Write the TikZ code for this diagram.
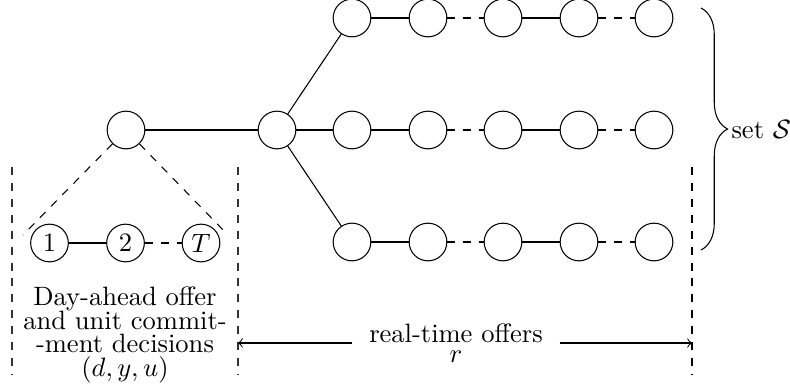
\documentclass[tikz,border=0pt]{standalone}
\usetikzlibrary{decorations.pathreplacing}
\begin{document}
\begin{tikzpicture}[x=0.3768pt,y=-0.3768pt,
  stage/.style={circle,draw,minimum size=14.2pt,inner sep=0pt},
  gapline/.style={draw,dashed}]
\useasboundingbox (0,0) rectangle (790,389);

% day-ahead root and branching node
\node[stage] (root) at (126,130) {};
\node[stage] (br) at (277,130) {};
\draw (root) -- (br);

% real-time scenario chains
\foreach \r/\y in {a/18,b/130,c/242}{
  \foreach \k/\x in {1/352,2/428,3/503,4/579,5/654}{
    \node[stage] (\r\k) at (\x,\y) {};
  }
  \draw (br) -- (\r1);
  \draw (\r1) -- (\r2);
  \draw[gapline] (\r2) -- (\r3);
  \draw (\r3) -- (\r4);
  \draw[gapline] (\r4) -- (\r5);
}

% hourly day-ahead stages
\node[stage] (t1) at (49.5,243) {1};
\node[stage] (t2) at (125.5,243) {2};
\node[stage] (tT) at (201,243) {$T$};
\draw (t1) -- (t2);
\draw[gapline] (t2) -- (tT);
\coordinate (dl) at (23,235);
\coordinate (dr) at (228,235);
\draw[gapline] (root) -- (dl);
\draw[gapline] (root) -- (dr);

% separators
\coordinate (s1t) at (12,167);  \coordinate (s1b) at (12,375);
\coordinate (s2t) at (238,167); \coordinate (s2b) at (238,375);
\coordinate (s3t) at (692,167); \coordinate (s3b) at (692,375);
\draw[gapline,black!80] (s1t) -- (s1b);
\draw[gapline,black!80] (s2t) -- (s2b);
\draw[gapline] (s3t) -- (s3b);

% labels
\node[align=center] (da) at (125,335)
  {Day-ahead offer\\[-3pt] and unit commit-\\[-3pt] -ment decisions\\[-3pt] $(d,y,u)$};

\coordinate (aL) at (238,343);
\coordinate (aR) at (692,343);
\node[align=center,inner xsep=6.2pt,inner ysep=0pt] (rt) at (456,343)
  {real-time offers\\[-4.6pt] $r$};
\draw[->] (rt.west |- aL) -- (aL);
\draw[->] (rt.east |- aR) -- (aR);

% scenario set brace
\coordinate (bt) at (701,8);
\coordinate (bb) at (701,250);
\draw[decorate,decoration={brace,amplitude=10pt}] (bt) -- (bb);
\node[anchor=west,inner sep=0pt] (setS) at (731,130) {set $\mathcal{S}$};
\end{tikzpicture}
\end{document}
